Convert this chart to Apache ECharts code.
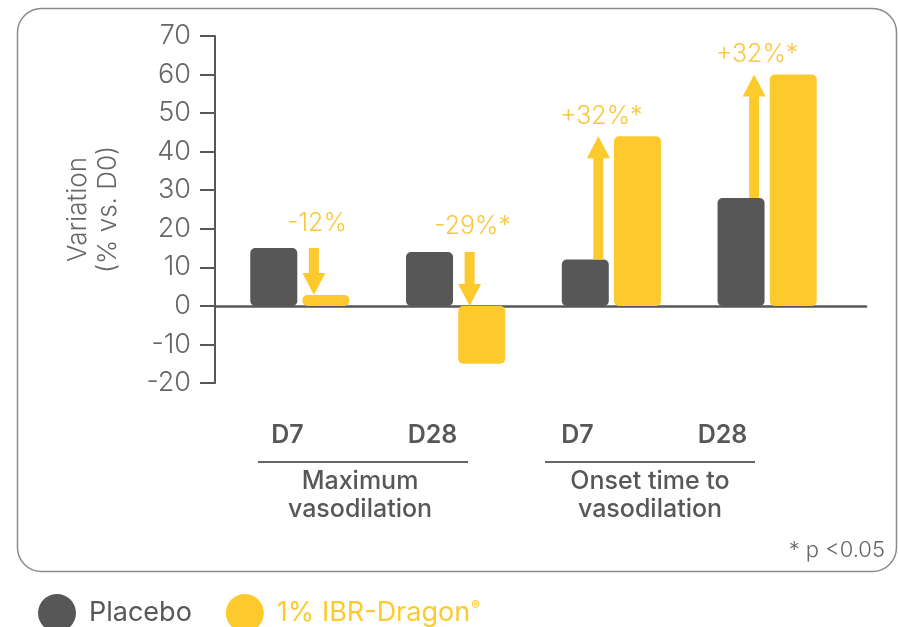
<!DOCTYPE html>
<html>
<head>
<meta charset="utf-8">
<script src="https://cdn.jsdelivr.net/npm/echarts@6/dist/echarts.min.js"></script>
<style>
html,body{margin:0;padding:0;background:#fff;}
#main{width:898px;height:627px;}
</style>
</head>
<body>
<div id="main"></div>
<script>
var categories = ['D7', 'D28', 'D7', 'D28'];
var groupNames = ['Maximum\nvasodilation', 'Onset time to\nvasodilation'];
var placeboValues = [15, 14, 12, 28];
var ibrValues = [2.8, -15, 44, 60];
var changeLabels = ['-12%', '-29%*', '+32%*', '+32%*'];
var yTicks = {min: -20, max: 70, interval: 10};

var gray = '#575757';
var yellow = '#FDCA2E';
var textGray = '#666666';
var font = 'Inter';

function renderArrow(params, api) {
    var i = api.value(0);
    var from = api.value(1);
    var to = Math.max(api.value(2), 0);
    var up = to > from;
    var x = api.coord([i, 0])[0] + (up ? -13 : 14);
    var y0 = api.coord([i, from])[1];
    var y1 = api.coord([i, to])[1];
    var sw = 5, hw = 11.5, hl = 22;
    var hb = up ? y1 + hl : y1 - hl;
    var pts = [[x - sw, y0], [x + sw, y0], [x + sw, hb], [x + hw, hb], [x, y1], [x - hw, hb], [x - sw, hb]];
    return {
        type: 'group',
        children: [
            {type: 'polygon', shape: {points: pts}, style: {fill: yellow}},
            {
                type: 'text',
                style: {
                    text: changeLabels[params.dataIndex],
                    x: x + 3,
                    y: up ? y1 - 20 : y0 - 25,
                    align: 'center',
                    verticalAlign: 'middle',
                    fill: '#F9C840',
                    font: '300 25px ' + font
                }
            }
        ]
    };
}

var myChart = echarts.init(document.getElementById('main'));
var option = {
    backgroundColor: '#fff',
    animation: false,
    textStyle: {fontFamily: font},
    grid: [
        {left: 222, right: 53, top: 36, bottom: 244},
        {left: 215, right: 32, top: 36, bottom: 244},
        {left: 215, right: 103, top: 36, bottom: 244}
    ],
    legend: {
        left: 33,
        top: 589,
        icon: 'circle',
        itemWidth: 38,
        itemHeight: 38,
        itemGap: 34,
        data: ['Placebo', '1% IBR-Dragon®'],
        formatter: function (name) {
            return name === 'Placebo' ? '{p|Placebo}' : '{y|1% IBR-Dragon}{s|®}';
        },
        textStyle: {
            padding: [0, 0, 0, 8],
            rich: {
                p: {color: gray, fontSize: 27, fontFamily: font},
                y: {color: yellow, fontSize: 27, fontFamily: font},
                s: {color: yellow, fontSize: 13, fontFamily: font, verticalAlign: 'top', padding: [0, 0, 12, 1]}
            }
        }
    },
    xAxis: [
        {
            type: 'category', gridIndex: 0, data: categories,
            axisLine: {show: false}, axisTick: {show: false}, axisLabel: {show: false}
        },
        {
            type: 'category', gridIndex: 1, data: categories,
            axisLine: {show: true, onZero: true, lineStyle: {color: gray, width: 2.5}},
            axisTick: {show: false}, axisLabel: {show: false}
        },
        {
            type: 'category', gridIndex: 2, data: categories,
            axisLine: {show: false}, axisTick: {show: false},
            axisLabel: {margin: 40, color: gray, fontSize: 25, fontWeight: 600, fontFamily: font}
        },
        {
            type: 'category', gridIndex: 2, data: groupNames, position: 'bottom',
            axisLine: {show: false}, axisTick: {show: false},
            axisLabel: {margin: 84, color: gray, fontSize: 25, fontWeight: 500, lineHeight: 28, fontFamily: font}
        }
    ],
    yAxis: [
        {
            type: 'value', gridIndex: 0,
            min: yTicks.min, max: yTicks.max, interval: yTicks.interval,
            offset: 7,
            name: 'Variation\n(% vs. D0)',
            nameLocation: 'middle',
            nameRotate: 90,
            nameGap: 92,
            nameTextStyle: {color: textGray, fontSize: 26, fontWeight: 300, lineHeight: 30, fontFamily: font},
            axisLine: {show: true, lineStyle: {color: gray, width: 2}},
            axisTick: {show: true, length: 15, lineStyle: {color: gray, width: 2}},
            axisLabel: {margin: 24, color: textGray, fontSize: 27, fontWeight: 300, fontFamily: font},
            splitLine: {show: false}
        },
        {type: 'value', gridIndex: 1, min: yTicks.min, max: yTicks.max, interval: yTicks.interval, show: false},
        {type: 'value', gridIndex: 2, min: yTicks.min, max: yTicks.max, interval: yTicks.interval, show: false}
    ],
    graphic: [
        {
            type: 'rect', z: -1,
            shape: {x: 17.5, y: 8.5, width: 879, height: 563, r: 24},
            style: {fill: 'none', stroke: '#8a8a8a', lineWidth: 1.5}
        },
        {type: 'line', shape: {x1: 258, y1: 462, x2: 468, y2: 462}, style: {stroke: textGray, lineWidth: 2}},
        {type: 'line', shape: {x1: 545, y1: 462, x2: 755, y2: 462}, style: {stroke: textGray, lineWidth: 2}},
        {
            type: 'text', right: 13, top: 539,
            style: {text: '* p <0.05', fill: textGray, font: '300 22px ' + font}
        }
    ],
    series: [
        {
            name: 'Placebo', type: 'bar', xAxisIndex: 0, yAxisIndex: 0,
            data: placeboValues, barWidth: 47, barGap: '11%',
            itemStyle: {color: gray, borderRadius: 5}
        },
        {
            name: '1% IBR-Dragon®', type: 'bar', xAxisIndex: 0, yAxisIndex: 0,
            data: ibrValues, barWidth: 47, barGap: '11%',
            itemStyle: {color: yellow, borderRadius: 5}
        },
        {
            type: 'custom', xAxisIndex: 0, yAxisIndex: 0, clip: false, z: 5,
            data: placeboValues.map(function (v, i) { return [i, v, ibrValues[i]]; }),
            renderItem: renderArrow,
            silent: true
        }
    ]
};
myChart.setOption(option);
</script>
</body>
</html>
